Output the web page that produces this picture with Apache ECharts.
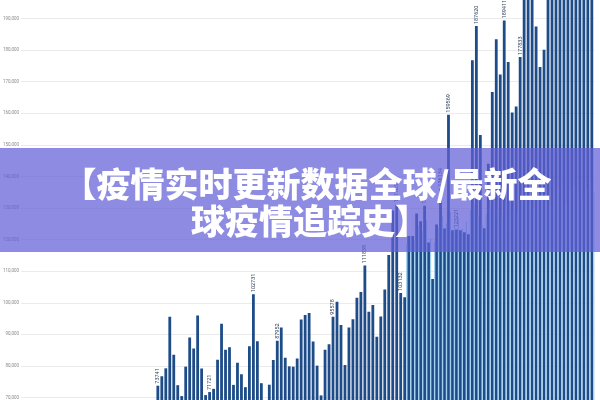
<!DOCTYPE html>
<html>
<head>
<meta charset="utf-8">
<script src="https://cdn.jsdelivr.net/npm/echarts@6/dist/echarts.min.js"></script>
<style>html,body{margin:0;padding:0;background:#fff}#c{width:600px;height:400px}</style>
</head>
<body>
<div id="c"></div>
<script>
// ---- data ----
const leadingEmpty = 34; // categories whose bars lie below the visible range
const darkValues = [
 73741, 76731, 79246, 95589, 83552, 73903, 70445, 79780, 88989, 85532,
 95998, 79180, 70760, 71721, 72740, 81980, 93389, 85123, 85940, 73997,
 81037, 77360, 73274, 86255, 102731, 87826, 74531, 68200, 74050, 81854,
 87952, 92132, 82609, 79874, 79760, 82389, 94741, 96124, 96752, 87732,
 80094, 70665, 85150, 86883, 95578, 100304, 92981, 80283, 92150, 94760,
 101561, 103447, 111839, 97161, 99267, 89209, 95620, 104170, 115170, 129219,
 131105, 103132, 101781, 121142, 121180, 128276, 125856, 130696, 119067, 107533,
 124819, 136134, 123562, 159569, 122934, 123221, 122990, 122305, 121676, 176773,
 187620, 153106, 123600, 143992, 166715, 183499, 172278, 189411, 176270, 160241,
 162127, 177833, 201000, 204000, 199000, 187459, 174699, 180136, 203000, 208000,
 199500, 211000, 205000, 214000, 202000, 209000, 216000, 207000, 212000, 219000
];
const lightStart = 62; // index within darkValues where the light series begins
const lightValues = [
 118500, 121200, 119800, 124300, 122600, 126100, 120400, 119300, 123700, 127500,
 125200, 128800, 124100, 126900, 123500, 125800, 129400, 131200, 127300, 124600,
 128100, 130500, 132400, 129700, 126800, 131900, 133600, 130200, 128500, 132800,
 134700, 131500, 129900, 133200, 135400, 132100, 130800, 134300, 136500, 133000,
 131700, 135800, 137200, 134600, 132900, 136100, 138300, 135000
];
const labeledBars = [0, 13, 24, 30, 44, 52, 60, 61, 67, 71, 73, 75, 80, 87, 91];
const yTicks = { min: 70000, max: 190000, interval: 10000 };
const titleLine1 = '【疫情实时更新数据全球/最新全';
const titleLine2 = '球疫情追踪史】';

// ---- build ----
const total = leadingEmpty + darkValues.length;
const categories = Array.from({length: total}, (_, i) => String(i + 1));
const darkData = [];
const lightData = [];
for (let i = 0; i < total; i++) {
  const j = i - leadingEmpty;
  if (j < 0) { darkData.push(null); lightData.push(null); continue; }
  const v = darkValues[j];
  darkData.push(labeledBars.indexOf(j) >= 0 ? {value: v, label: {show: true}} : v);
  lightData.push(j >= lightStart ? lightValues[j - lightStart] : null);
}

const chart = echarts.init(document.getElementById('c'), null, {renderer: 'canvas'});
chart.setOption({
  animation: false,
  grid: {left: 21, right: 5.6, top: 18.6, bottom: 0, containLabel: false},
  xAxis: {
    type: 'category', data: categories, show: false,
    boundaryGap: true
  },
  yAxis: {
    type: 'value', min: yTicks.min, max: yTicks.max, interval: yTicks.interval,
    axisLine: {show: false}, axisTick: {show: false},
    axisLabel: {fontSize: 4.5, color: '#8a8a8a', margin: 2, fontFamily: 'Roboto'},
    splitLine: {lineStyle: {color: '#ebebeb', width: 1}}
  },
  series: [
    {
      type: 'bar', name: 'dark', data: darkData, clip: false,
      barWidth: 2.8, barGap: '0%', barCategoryGap: '0%',
      itemStyle: {color: '#1d4c88'},
      label: {
        show: false, position: 'top', rotate: 90, distance: 2,
        align: 'left', verticalAlign: 'middle',
        fontSize: 5.5, color: '#33445f', fontFamily: 'Roboto'
      }
    },
    {
      type: 'bar', name: 'light', data: lightData, clip: false,
      barWidth: 1.18, barGap: '0%',
      itemStyle: {color: '#a3d0ee'}
    }
  ],
  graphic: [
    {type: 'rect', left: 0, top: 148, z: 100,
     shape: {width: 600, height: 104},
     style: {fill: 'rgba(99,95,215,0.72)'}},
    {type: 'text', z: 101, x: 307, y: 184,
     style: {text: titleLine1, fill: '#ffffff', font: '900 34px "Noto Sans CJK SC"',
             textAlign: 'center', textVerticalAlign: 'middle'}},
    {type: 'text', z: 101, x: 310, y: 221,
     style: {text: titleLine2, fill: '#ffffff', font: '900 34px "Noto Sans CJK SC"',
             textAlign: 'center', textVerticalAlign: 'middle'}}
  ]
});
</script>
</body>
</html>
